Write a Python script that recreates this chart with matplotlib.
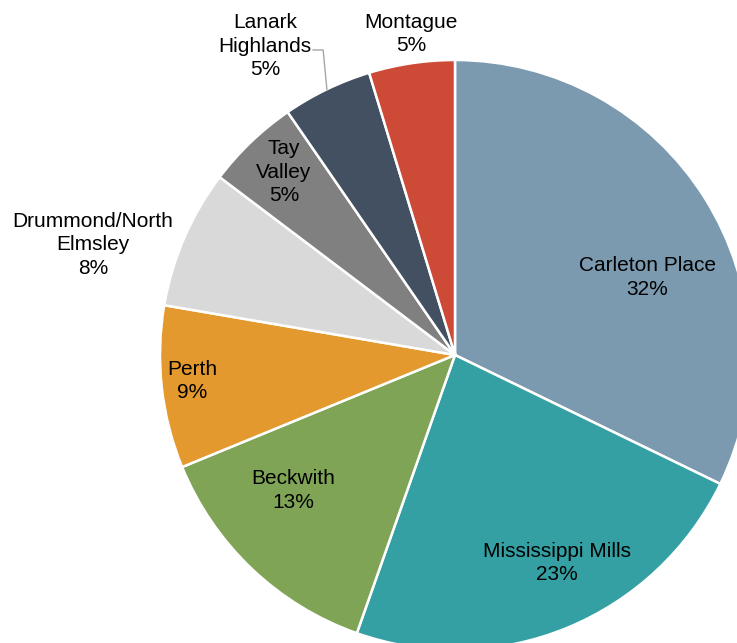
import numpy as np
import matplotlib
matplotlib.use("Agg")
from matplotlib import pyplot as plt

# ------------------- data ------------------- #
towns = ["Carleton Place", "Mississippi Mills", "Beckwith", "Perth",
         "Drummond/North\nElmsley", "Tay\nValley", "Lanark\nHighlands", "Montague"]
shares = [32.2, 23.2, 13.4, 8.9, 7.6, 5.1, 4.9, 4.7]
colors = ["#7b9aaf", "#35a0a3", "#80a456", "#e4992f",
          "#d9d9d9", "#808080", "#425061", "#cc4a36"]

# label centres, as offsets from the pie centre in units of the radius
label_pos = [(0.651, 0.264), (0.346, -0.705), (-0.549, -0.458), (-0.892, -0.088),
             (-1.227, 0.373), (-0.580, 0.620), (-0.644, 1.047), (-0.149, 1.088)]

plt.rcParams['font.family'] = ['Liberation Sans', 'DejaVu Sans']

# ------------------- figure ------------------- #
fig = plt.figure(figsize=(7.37, 6.43), dpi=100)
ax = fig.add_axes([0, 0, 1, 1])

cx, cy, r = 455, 288, 295
wedges, _ = ax.pie(shares, colors=colors, startangle=90, counterclock=False,
                   center=(cx, cy), radius=r,
                   wedgeprops=dict(edgecolor="white", linewidth=1.8))
ax.set_xlim(0, 737)
ax.set_ylim(0, 643)
ax.set_aspect("equal")
ax.axis("off")

# labels: name + rounded percent
for name, val, (dx, dy) in zip(towns, shares, label_pos):
    ax.text(cx + dx * r, cy + dy * r, "%s\n%d%%" % (name, round(val)),
            ha="center", va="center", fontsize=15, linespacing=1.32,
            color="black")

# leader line for Lanark Highlands
w = wedges[6]
mid = np.deg2rad((w.theta1 + w.theta2) / 2)
ex, ey = cx + r * np.cos(mid), cy + r * np.sin(mid)
ax.plot([cx - 0.481 * r, cx - 0.447 * r, ex], [cy + 1.034 * r, cy + 1.034 * r, ey],
        color="#a6a6a6", linewidth=1.0, clip_on=False)

fig.savefig("out.png", dpi=100)
